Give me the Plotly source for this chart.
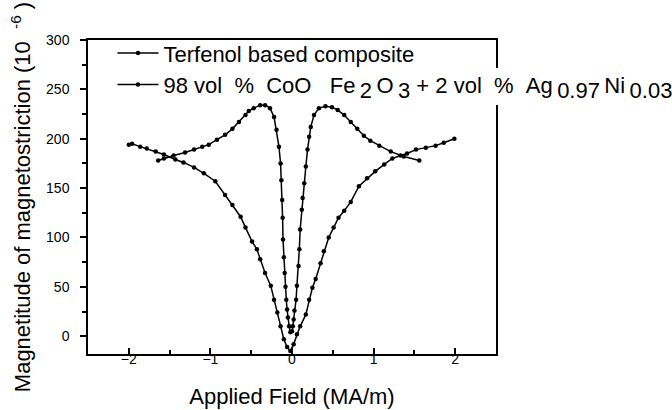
import plotly.graph_objects as go

# Terfenol based composite (butterfly curve)
terf_x = [-1.64, -1.57, -1.45, -1.31, -1.2, -1.10, -1.02, -0.92, -0.82, -0.73, -0.65, -0.57, -0.53, -0.47,
          -0.39, -0.33, -0.27, -0.22, -0.19, -0.16, -0.14, -0.13, -0.12, -0.115, -0.11, -0.10, -0.09, -0.08,
          -0.07, -0.06, -0.05, -0.035, -0.02, 0.00, 0.01, 0.02, 0.03, 0.05, 0.06, 0.08, 0.09, 0.10, 0.12,
          0.13, 0.15, 0.17, 0.19, 0.21, 0.23, 0.27, 0.33, 0.41, 0.49, 0.56, 0.64, 0.72, 0.80, 0.88, 0.96,
          1.07, 1.21, 1.37, 1.56]
terf_y = [178, 180, 183, 186, 189, 192, 194, 199, 204, 210, 217, 224, 228, 231,
          234, 234, 231, 222, 209, 192, 175, 158, 138, 120, 98, 80, 64, 50,
          37, 27, 19, 10, 4, 5, 10, 17, 26, 37, 51, 71, 88, 108, 128,
          140, 155, 172, 189, 202, 212, 224, 231, 233, 232, 229, 224, 217, 210, 203, 198,
          193, 187, 182, 178]

# 98 vol % CoO Fe2O3 + 2 vol % Ag0.97Ni0.03 (V-shaped curve)
coo_x = [-2.0, -1.96, -1.86, -1.78, -1.67, -1.57, -1.43, -1.33, -1.2, -1.08, -0.94, -0.82, -0.73, -0.63,
         -0.57, -0.49, -0.43, -0.39, -0.33, -0.26, -0.22, -0.18, -0.14, -0.10, -0.06, -0.02, 0.02, 0.06,
         0.10, 0.17, 0.21, 0.25, 0.29, 0.35, 0.39, 0.45, 0.51, 0.57, 0.64, 0.72, 0.82, 0.92, 1.02, 1.13,
         1.23, 1.33, 1.41, 1.52, 1.64, 1.76, 1.86, 1.99]
coo_y = [194, 195, 192, 190, 187, 184, 179, 176, 171, 165, 157, 143, 133, 121,
         110, 96, 88, 78, 64, 51, 37, 24, 10, -3, -11, -15, -8, 2,
         10, 22, 37, 49, 58, 74, 86, 100, 110, 120, 127, 136, 152, 160, 167, 174,
         180, 183, 185, 189, 191, 193, 196, 200]

x_ticks = [-2, -1, 0, 1, 2]
y_ticks = [0, 50, 100, 150, 200, 250, 300]

NB = "\u00a0"
TH = "\u2009"
FS = 22


def sub(t):
    return "<sub><span style='font-size:22px'>%s</span></sub>" % (TH + t)


name1 = "Terfenol based composite"
name2 = ("98 vol" + NB * 2 + "%" + NB * 2 + "CoO" + NB * 3 + "Fe" + sub("2") + TH + "O" + sub("3")
         + " + 2 vol" + NB * 2 + "%" + NB * 2 + "Ag" + sub("0.97") + TH + "Ni" + sub("0.03"))

tfont = "Liberation Sans, Arial, sans-serif"

fig = go.Figure()
fig.add_trace(go.Scatter(x=terf_x, y=terf_y, mode="lines+markers", name=name1,
                         line=dict(color="black", width=1.5), marker=dict(color="black", size=4.5)))
fig.add_trace(go.Scatter(x=coo_x, y=coo_y, mode="lines+markers", name=name2,
                         line=dict(color="black", width=1.5), marker=dict(color="black", size=4.5)))

fig.update_layout(
    width=672, height=410,
    margin=dict(l=88, r=176, t=40, b=56, autoexpand=False),
    paper_bgcolor="white", plot_bgcolor="white",
    font=dict(family=tfont, color="black", size=14),
    showlegend=True,
    legend=dict(x=0.060, y=1.025, xanchor="left", yanchor="top", bgcolor="rgba(0,0,0,0)",
                font=dict(family=tfont, size=FS, color="black"), tracegroupgap=0,
                itemwidth=41),
    shapes=[dict(type="rect", xref="paper", yref="paper", x0=0.99, x1=1.01, y0=0.793, y1=0.911,
                 fillcolor="white", line=dict(width=0), layer="above")],
)
fig.update_xaxes(range=[-2.5, 2.5], tickvals=x_ticks, ticks="inside", ticklen=6, tickwidth=1.5,
                 tickcolor="black", showline=True, linecolor="black", linewidth=1.5, mirror=True,
                 showgrid=False, zeroline=False, ticklabelstandoff=-9, automargin=False,
                 minor=dict(dtick=0.5, tick0=0, ticks="inside", ticklen=4, tickcolor="black"),
                 title=dict(text="Applied Field (MA/m)", font=dict(family=tfont, size=FS), standoff=23))
fig.update_yaxes(range=[-18, 300], tickvals=y_ticks, ticks="outside", ticklen=6, tickwidth=1.5,
                 tickcolor="black", showline=True, linecolor="black", linewidth=1.5, mirror=True,
                 showgrid=False, zeroline=False, ticklabelstandoff=8, automargin=False,
                 minor=dict(dtick=25, tick0=0, ticks="outside", ticklen=4, tickcolor="black"),
                 title=dict(text="Magnetitude of magnetostriction (10" + NB * 2 + "<sup>-6</sup>" + NB + ")",
                            font=dict(family=tfont, size=FS), standoff=9))

fig.write_html("out.html", config={"displayModeBar": False},
               post_script="document.body.style.margin='0';document.body.style.padding='0';")
